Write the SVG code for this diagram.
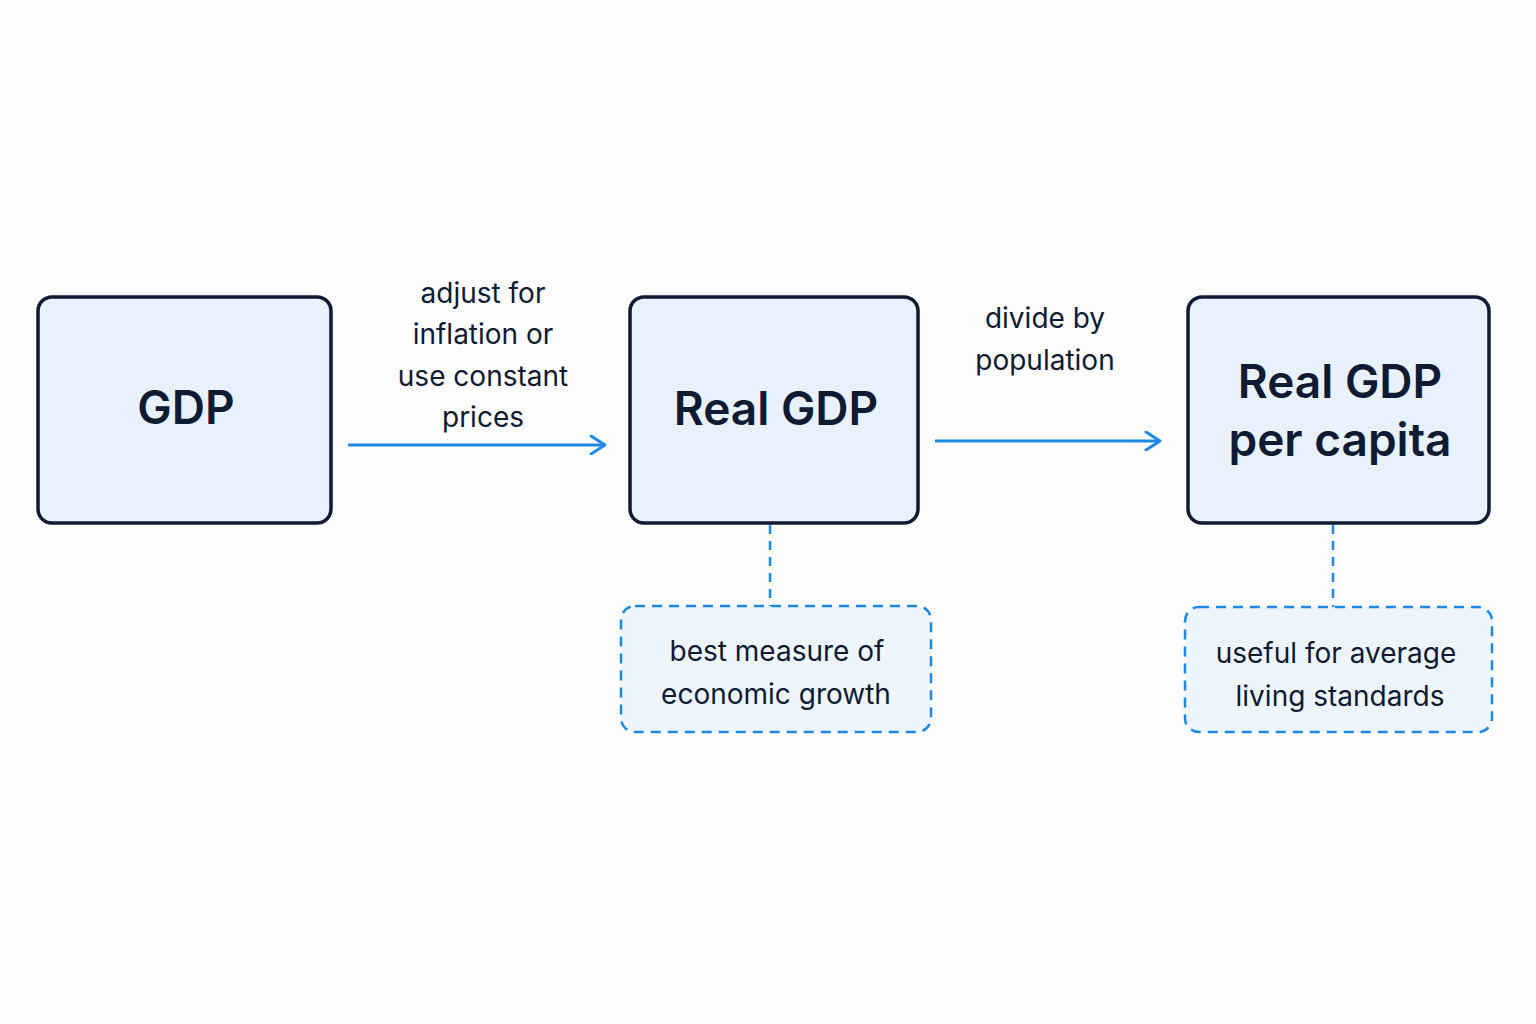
<svg xmlns="http://www.w3.org/2000/svg" width="1536" height="1024" viewBox="0 0 1536 1024">
<defs>
<style>
.node{fill:#e8f1fc;stroke:#0f1a33;stroke-width:3.5}
.note{fill:#eef5fd;stroke:#1e88e5;stroke-width:2.5;stroke-dasharray:10 7}
.t{font-family:Inter,"Liberation Sans",sans-serif;font-weight:600;font-size:46px;fill:#0f1a33;text-anchor:middle}
.l{font-family:Inter,"Liberation Sans",sans-serif;font-size:28px;fill:#0f1a33;text-anchor:middle}
.c{stroke:#1e88e5;stroke-width:3;fill:none}
.d{stroke:#1e88e5;stroke-width:2.5;fill:none;stroke-dasharray:9 7}
</style>
<marker id="ah" viewBox="0 0 20 20" refX="17" refY="10" markerWidth="20" markerHeight="20" markerUnits="userSpaceOnUse" orient="auto">
<path d="M3 1 L17 10 L3 19" fill="none" stroke="#1e88e5" stroke-width="3" stroke-linecap="round" stroke-linejoin="round"/>
</marker>
</defs>
<rect width="1536" height="1024" fill="#fdfdfd"/>
<g id="connectors">
<line class="c" x1="348" y1="445" x2="605" y2="445" marker-end="url(#ah)"/>
<line class="c" x1="935" y1="441" x2="1160" y2="441" marker-end="url(#ah)"/>
<line class="d" x1="770" y1="525" x2="770" y2="606"/>
<line class="d" x1="1333" y1="525" x2="1333" y2="607"/>
<text class="l" x="483" y="303">adjust for</text>
<text class="l" x="483" y="344">inflation or</text>
<text class="l" x="483" y="386">use constant</text>
<text class="l" x="483" y="427">prices</text>
<text class="l" x="1045" y="328">divide by</text>
<text class="l" x="1045" y="370">population</text>
</g>
<g id="gdp"><rect class="node" x="38" y="297" width="293" height="226" rx="14"/><text class="t" x="186" y="424">GDP</text></g>
<g id="real-gdp"><rect class="node" x="630" y="297" width="288" height="226" rx="14"/><text class="t" x="776" y="425">Real GDP</text></g>
<g id="real-gdp-per-capita"><rect class="node" x="1188" y="297" width="301" height="226" rx="14"/><text class="t" x="1340" y="398">Real GDP</text><text class="t" x="1340" y="456">per capita</text></g>
<g id="note-growth"><rect class="note" x="621" y="606" width="310" height="126" rx="14"/><text class="l" x="777" y="661">best measure of</text><text class="l" x="776" y="704">economic growth</text></g>
<g id="note-living"><rect class="note" x="1185" y="607" width="307" height="125" rx="14"/><text class="l" x="1336" y="663">useful for average</text><text class="l" x="1340" y="706">living standards</text></g>
</svg>
